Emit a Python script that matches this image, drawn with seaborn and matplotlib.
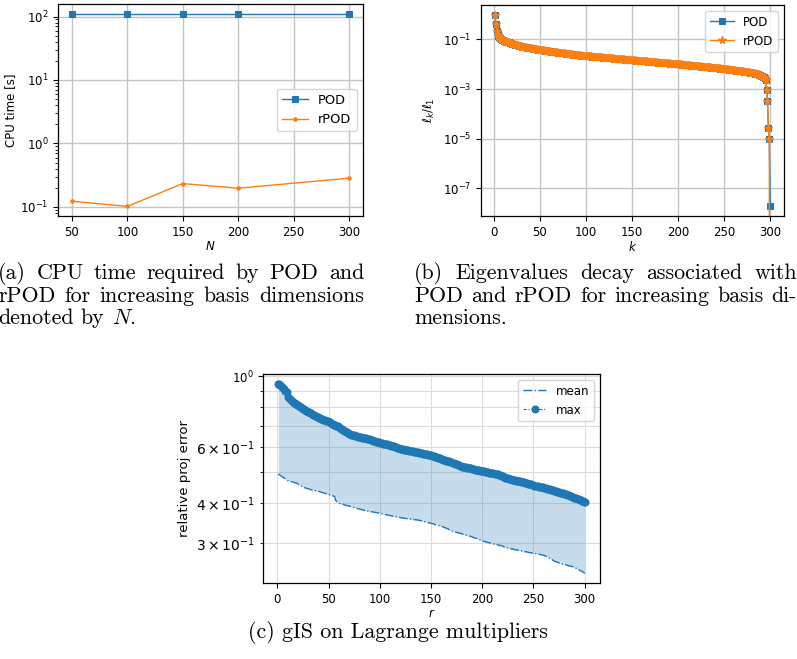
import matplotlib
matplotlib.use("Agg")
import matplotlib.pyplot as plt
import matplotlib.transforms as mtransforms
import numpy as np
import seaborn as sns

sns.set_style("ticks", {"axes.edgecolor": "black", "xtick.color": "black",
                        "ytick.color": "black", "text.color": "black",
                        "axes.labelcolor": "black"})
plt.rcParams['font.family'] = ['DejaVu Sans']
plt.rcParams['lines.solid_capstyle'] = 'projecting'

# (a) CPU time against basis dimension N
N_values = [50, 100, 150, 200, 300]
cpu_pod = [111, 111, 111, 111, 111]
cpu_rpod = [0.123, 0.102, 0.233, 0.197, 0.284]

# (b) normalised eigenvalues l_k / l_1, k = 1..300
k_values = list(range(1, 301))
eig_pod = [
    1.0, 0.40, 0.21, 0.16, 0.14, 0.124, 0.113, 0.104, 0.097, 0.092,
    0.088, 0.085, 0.082, 0.079, 0.077, 0.075, 0.073, 0.071, 0.069, 0.066,
    0.0646, 0.0631, 0.0617, 0.0603, 0.0589, 0.0575, 0.0562, 0.0550, 0.0537, 0.0525,
    0.0515, 0.0506, 0.0497, 0.0488, 0.0479, 0.0470, 0.0462, 0.0454, 0.0446, 0.0437,
    0.0431, 0.0425, 0.0419, 0.0413, 0.0407, 0.0401, 0.0395, 0.0390, 0.0385, 0.0380,
    0.0375, 0.0370, 0.0365, 0.0360, 0.0355, 0.0350, 0.0346, 0.0341, 0.0336, 0.0331,
    0.0327, 0.0323, 0.0319, 0.0315, 0.0312, 0.0308, 0.0305, 0.0301, 0.0298, 0.0295,
    0.0292, 0.0288, 0.0285, 0.0282, 0.0279, 0.0276, 0.0273, 0.0270, 0.0267, 0.0263,
    0.0260, 0.0257, 0.0254, 0.0251, 0.0248, 0.0245, 0.0242, 0.0239, 0.0237, 0.0234,
    0.0232, 0.0230, 0.0228, 0.0226, 0.0224, 0.0222, 0.0220, 0.0218, 0.0216, 0.0214,
    0.0212, 0.0211, 0.0209, 0.0207, 0.0206, 0.0204, 0.0203, 0.0201, 0.0200, 0.0198,
    0.0196, 0.0195, 0.0193, 0.0192, 0.0190, 0.0189, 0.0187, 0.0186, 0.0184, 0.0183,
    0.0182, 0.0180, 0.0179, 0.0177, 0.0176, 0.0175, 0.0173, 0.0172, 0.0171, 0.0169,
    0.0168, 0.0167, 0.0165, 0.0164, 0.0163, 0.0161, 0.0160, 0.0159, 0.0158, 0.0156,
    0.0155, 0.0154, 0.0153, 0.0152, 0.0150, 0.0149, 0.0148, 0.0147, 0.0146, 0.0145,
    0.0144, 0.0143, 0.0142, 0.0141, 0.0140, 0.0139, 0.0138, 0.0137, 0.0136, 0.0135,
    0.0134, 0.0133, 0.0132, 0.0131, 0.0130, 0.0129, 0.0128, 0.0127, 0.0126, 0.0125,
    0.0124, 0.0123, 0.0122, 0.0121, 0.0120, 0.0119, 0.0118, 0.0117, 0.0116, 0.0116,
    0.0115, 0.0114, 0.0113, 0.0112, 0.0111, 0.0110, 0.0109, 0.0109, 0.0108, 0.0107,
    0.0106, 0.0106, 0.0105, 0.0104, 0.0103, 0.0103, 0.0102, 0.0101, 0.0101, 0.0100,
    0.00991, 0.00983, 0.00974, 0.00966, 0.00957, 0.00949, 0.00941, 0.00933, 0.00925, 0.00917,
    0.00909, 0.00901, 0.00893, 0.00885, 0.00878, 0.00870, 0.00863, 0.00855, 0.00848, 0.00841,
    0.00833, 0.00826, 0.00819, 0.00812, 0.00805, 0.00798, 0.00791, 0.00784, 0.00777, 0.00771,
    0.00764, 0.00757, 0.00751, 0.00744, 0.00738, 0.00731, 0.00725, 0.00719, 0.00712, 0.00706,
    0.00700, 0.00694, 0.00688, 0.00682, 0.00676, 0.00670, 0.00664, 0.00659, 0.00653, 0.00646,
    0.00639, 0.00632, 0.00624, 0.00617, 0.00610, 0.00603, 0.00596, 0.00589, 0.00583, 0.00576,
    0.00569, 0.00563, 0.00556, 0.00550, 0.00544, 0.00537, 0.00531, 0.00525, 0.00519, 0.00513,
    0.00506, 0.00499, 0.00492, 0.00485, 0.00478, 0.00472, 0.00466, 0.00460, 0.00453, 0.00447,
    0.00440, 0.00433, 0.00425, 0.00417, 0.00407, 0.00395, 0.00385, 0.00373, 0.00361, 0.00347,
    0.00331, 0.00316, 0.00295, 0.00269, 0.00240, 9.1e-4, 3.2e-4, 2.8e-5, 1.0e-5, 1.85e-8,
]
# rPOD matches POD except the last eigenvalue, which drops off the axis (zero)
eig_rpod = eig_pod[:-1] + [0.0]

# (c) relative projection error of gIS on the Lagrange multipliers, r = 1..300
r_values = list(range(1, 301))
err_max = [
    0.948, 0.944, 0.939, 0.933, 0.926, 0.918, 0.910, 0.901, 0.893, 0.860,
    0.855, 0.849, 0.843, 0.836, 0.830, 0.826, 0.822, 0.818, 0.814, 0.810,
    0.806, 0.802, 0.798, 0.794, 0.791, 0.787, 0.784, 0.780, 0.777, 0.773,
    0.770, 0.767, 0.764, 0.761, 0.758, 0.755, 0.752, 0.749, 0.746, 0.742,
    0.740, 0.738, 0.736, 0.734, 0.731, 0.729, 0.727, 0.724, 0.721, 0.719,
    0.716, 0.713, 0.710, 0.708, 0.705, 0.702, 0.700, 0.698, 0.696, 0.693,
    0.689, 0.685, 0.681, 0.678, 0.675, 0.672, 0.669, 0.666, 0.663, 0.660,
    0.658, 0.656, 0.655, 0.653, 0.652, 0.651, 0.649, 0.648, 0.646, 0.645,
    0.644, 0.643, 0.642, 0.641, 0.640, 0.639, 0.638, 0.637, 0.635, 0.634,
    0.632, 0.630, 0.628, 0.627, 0.625, 0.624, 0.623, 0.621, 0.620, 0.619,
    0.617, 0.616, 0.615, 0.614, 0.613, 0.612, 0.611, 0.610, 0.609, 0.607,
    0.606, 0.605, 0.603, 0.602, 0.601, 0.599, 0.597, 0.596, 0.594, 0.593,
    0.592, 0.591, 0.590, 0.589, 0.588, 0.587, 0.586, 0.585, 0.583, 0.582,
    0.581, 0.581, 0.580, 0.579, 0.578, 0.578, 0.577, 0.576, 0.575, 0.574,
    0.573, 0.572, 0.571, 0.570, 0.570, 0.569, 0.568, 0.567, 0.566, 0.565,
    0.564, 0.562, 0.561, 0.560, 0.558, 0.557, 0.556, 0.554, 0.553, 0.551,
    0.550, 0.548, 0.547, 0.546, 0.544, 0.543, 0.542, 0.541, 0.539, 0.538,
    0.536, 0.534, 0.532, 0.531, 0.529, 0.528, 0.526, 0.524, 0.523, 0.521,
    0.520, 0.519, 0.518, 0.518, 0.517, 0.516, 0.515, 0.515, 0.514, 0.513,
    0.512, 0.511, 0.510, 0.509, 0.508, 0.507, 0.507, 0.506, 0.505, 0.504,
    0.503, 0.503, 0.502, 0.501, 0.501, 0.500, 0.499, 0.499, 0.498, 0.497,
    0.496, 0.495, 0.494, 0.493, 0.492, 0.491, 0.490, 0.488, 0.487, 0.485,
    0.483, 0.481, 0.480, 0.479, 0.478, 0.477, 0.476, 0.475, 0.474, 0.473,
    0.472, 0.472, 0.471, 0.470, 0.470, 0.469, 0.468, 0.467, 0.467, 0.466,
    0.465, 0.464, 0.463, 0.462, 0.461, 0.460, 0.459, 0.458, 0.456, 0.455,
    0.454, 0.454, 0.453, 0.452, 0.451, 0.450, 0.450, 0.449, 0.448, 0.447,
    0.446, 0.445, 0.444, 0.443, 0.443, 0.442, 0.441, 0.440, 0.439, 0.438,
    0.437, 0.436, 0.435, 0.434, 0.433, 0.432, 0.431, 0.430, 0.429, 0.428,
    0.427, 0.426, 0.425, 0.424, 0.423, 0.422, 0.420, 0.419, 0.418, 0.416,
    0.415, 0.414, 0.412, 0.411, 0.410, 0.409, 0.407, 0.406, 0.404, 0.403,
]
err_mean = [
    0.494, 0.491, 0.488, 0.486, 0.484, 0.482, 0.479, 0.477, 0.474, 0.471,
    0.470, 0.469, 0.468, 0.467, 0.466, 0.465, 0.464, 0.463, 0.462, 0.460,
    0.458, 0.456, 0.454, 0.452, 0.450, 0.448, 0.447, 0.446, 0.445, 0.444,
    0.443, 0.442, 0.441, 0.440, 0.440, 0.439, 0.438, 0.437, 0.437, 0.436,
    0.435, 0.434, 0.433, 0.432, 0.431, 0.430, 0.429, 0.428, 0.427, 0.426,
    0.425, 0.424, 0.423, 0.422, 0.421, 0.420, 0.408, 0.405, 0.402, 0.400,
    0.399, 0.398, 0.397, 0.397, 0.396, 0.395, 0.394, 0.393, 0.393, 0.392,
    0.391, 0.390, 0.389, 0.388, 0.388, 0.387, 0.386, 0.385, 0.384, 0.384,
    0.383, 0.382, 0.382, 0.381, 0.380, 0.380, 0.379, 0.378, 0.378, 0.377,
    0.377, 0.376, 0.376, 0.375, 0.375, 0.374, 0.374, 0.373, 0.373, 0.372,
    0.371, 0.371, 0.370, 0.370, 0.369, 0.368, 0.368, 0.367, 0.367, 0.366,
    0.365, 0.365, 0.364, 0.364, 0.363, 0.363, 0.362, 0.362, 0.361, 0.361,
    0.360, 0.360, 0.359, 0.359, 0.359, 0.358, 0.358, 0.357, 0.357, 0.357,
    0.356, 0.356, 0.356, 0.355, 0.355, 0.355, 0.354, 0.354, 0.353, 0.353,
    0.352, 0.351, 0.351, 0.350, 0.349, 0.349, 0.348, 0.347, 0.347, 0.346,
    0.345, 0.345, 0.344, 0.343, 0.342, 0.342, 0.341, 0.340, 0.340, 0.339,
    0.338, 0.337, 0.336, 0.335, 0.334, 0.333, 0.332, 0.330, 0.329, 0.328,
    0.327, 0.327, 0.326, 0.325, 0.324, 0.324, 0.323, 0.322, 0.322, 0.321,
    0.320, 0.319, 0.319, 0.318, 0.317, 0.317, 0.316, 0.315, 0.315, 0.314,
    0.313, 0.312, 0.311, 0.311, 0.310, 0.309, 0.308, 0.307, 0.306, 0.305,
    0.304, 0.304, 0.303, 0.302, 0.302, 0.301, 0.301, 0.300, 0.300, 0.299,
    0.298, 0.298, 0.297, 0.297, 0.296, 0.296, 0.295, 0.295, 0.294, 0.294,
    0.292, 0.291, 0.291, 0.290, 0.290, 0.289, 0.289, 0.288, 0.288, 0.287,
    0.287, 0.286, 0.286, 0.285, 0.285, 0.285, 0.284, 0.284, 0.283, 0.283,
    0.282, 0.282, 0.282, 0.281, 0.281, 0.280, 0.280, 0.280, 0.279, 0.279,
    0.279, 0.278, 0.278, 0.278, 0.277, 0.277, 0.276, 0.276, 0.275, 0.275,
    0.274, 0.273, 0.272, 0.271, 0.270, 0.269, 0.268, 0.267, 0.265, 0.264,
    0.263, 0.262, 0.262, 0.261, 0.260, 0.260, 0.259, 0.258, 0.258, 0.257,
    0.257, 0.256, 0.256, 0.255, 0.255, 0.254, 0.254, 0.253, 0.253, 0.252,
    0.251, 0.250, 0.249, 0.248, 0.247, 0.246, 0.245, 0.244, 0.243, 0.241,
]

caption_a = ["(a) CPU time required by POD and",
             "rPOD for increasing basis dimensions",
             "denoted by $N$."]
caption_b = ["(b) Eigenvalues decay associated with",
             "POD and rPOD for increasing basis di-",
             "mensions."]
caption_c = "(c) gIS on Lagrange multipliers"

W, H = 797, 659
TICK = 8.5
fig = plt.figure(figsize=(W / 100, H / 100), dpi=100)


def px_axes(left, top, right, bottom):
    return fig.add_axes([left / W, 1 - bottom / H, (right - left) / W, (bottom - top) / H])


ax_a = px_axes(58, 4, 363, 216)
ax_b = px_axes(481, 5, 784, 216)
ax_c = px_axes(263, 374, 600, 583)

# ---- (a)
sns.lineplot(x=N_values, y=cpu_pod, ax=ax_a, color='C0', marker='s', markersize=4,
             markeredgecolor='C0', linewidth=1, label='POD')
sns.lineplot(x=N_values, y=cpu_rpod, ax=ax_a, color='C1', marker='.', markersize=5,
             markeredgecolor='C1', linewidth=1, label='rPOD')
ax_a.set_yscale('log')
ax_a.set_xticks([50, 100, 150, 200, 250, 300])
ax_a.set_xlabel('$N$', fontsize=TICK, labelpad=1)
ax_a.set_ylabel('CPU time [s]', fontsize=8.5, labelpad=2)
ax_a.legend(loc='center right', fontsize=9.3)

# ---- (b)
sns.lineplot(x=k_values, y=eig_pod, ax=ax_b, color='C0', marker='s', markersize=5,
             markeredgecolor='C0', linewidth=1, label='POD')
ax_b.plot(k_values, eig_rpod, color='C1', marker='*', markersize=5.5, linewidth=1, label='rPOD')
ax_b.set_yscale('log')
ax_b.set_xticks([0, 50, 100, 150, 200, 250, 300])
ax_b.set_xlabel('$k$', fontsize=TICK, labelpad=1)
ax_b.set_ylabel(r'$\ell_k/\ell_1$', fontsize=8.5)
ax_b.legend(loc='upper right', fontsize=TICK)

for ax in (ax_a, ax_b):
    ax.grid(True, which='major', color='#c4c4c4', linewidth=1.0)

# ---- (c)
sns.lineplot(x=r_values, y=err_mean, ax=ax_c, color='C0', linestyle='-.', linewidth=1,
             label='mean')
sns.lineplot(x=r_values, y=err_max, ax=ax_c, color='C0', linestyle=(0, (3, 1.5, 1, 1.5)),
             linewidth=0.8, marker='o', markersize=5, markeredgecolor='C0', label='max')
ax_c.fill_between(r_values, err_mean, err_max, color='C0', alpha=0.25, linewidth=0)
ax_c.set_yscale('log')
ax_c.set_xticks([0, 50, 100, 150, 200, 250, 300])
ax_c.grid(True, which='both', color='#dcdcdc', linewidth=0.8)
ax_c.set_xlabel('$r$', fontsize=TICK, labelpad=1)
ax_c.set_ylabel('relative proj error', fontsize=9.5)
ax_c.legend(loc='upper right', fontsize=TICK)

for ax in (ax_a, ax_b, ax_c):
    ax.tick_params(labelsize=TICK)
    for s in ax.spines.values():
        s.set_linewidth(0.9)

# ---- captions (justified like the LaTeX page)
renderer = fig.canvas.get_renderer()
ident = mtransforms.IdentityTransform()
CAP = 15.8


def caption_line(line, x0, x1, y_base, justify):
    words = line.split(' ')
    texts = [fig.text(0, 0, w, fontsize=CAP, family='cmr10', math_fontfamily='cm',
                      transform=ident, va='baseline') for w in words]
    widths = [t.get_window_extent(renderer).width for t in texts]
    if justify and len(words) > 1:
        gap = max((x1 - x0 - sum(widths)) / (len(words) - 1), 3)
    else:
        gap = CAP * 100 / 72 * 0.333
    x = x0
    for t, w in zip(texts, widths):
        t.set_position((x, H - y_base))
        x += w + gap


for i, line in enumerate(caption_a):
    caption_line(line, -2, 364, 279 + 22.5 * i, i < 2)
for i, line in enumerate(caption_b):
    caption_line(line, 414, 797, 279 + 22.5 * i, i < 2)
fig.text(398 / W, 1 - 638 / H, caption_c, fontsize=CAP, family='cmr10',
         ha='center', va='baseline')

fig.savefig('out.png', dpi=100)
